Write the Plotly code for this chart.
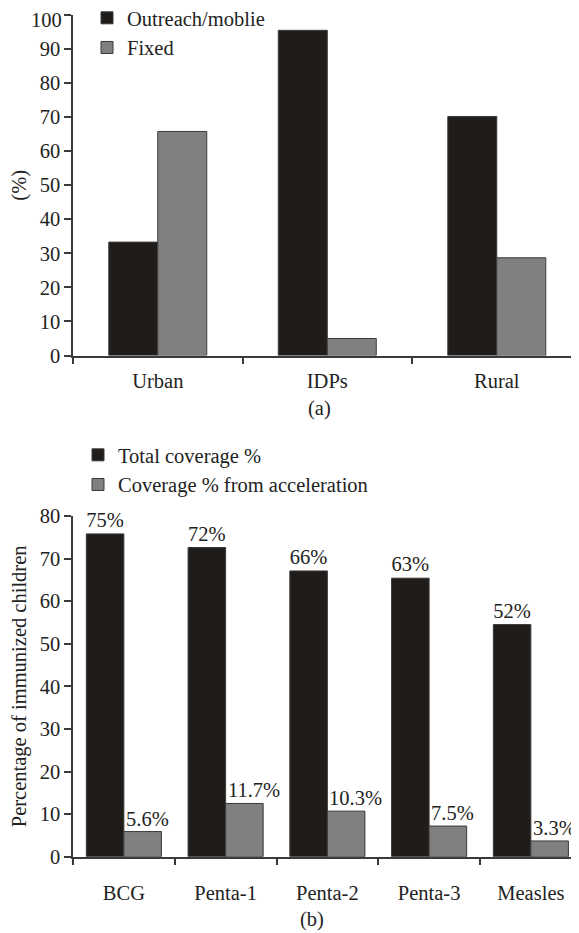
import plotly.graph_objects as go

# ---- Data: panel (a)
areas = ["Urban", "IDPs", "Rural"]
outreach_mobile = [33.3, 95.5, 70.2]
fixed = [65.8, 5.0, 28.7]
ticks_a = list(range(0, 101, 10))

# ---- Data: panel (b)
vaccines = ["BCG", "Penta-1", "Penta-2", "Penta-3", "Measles"]
total_coverage = [75.8, 72.6, 67.1, 65.4, 54.5]
total_labels = ["75%", "72%", "66%", "63%", "52%"]
acceleration_coverage = [5.9, 12.5, 10.7, 7.2, 3.7]
acceleration_labels = ["5.6%", "11.7%", "10.3%", "7.5%", "3.3%"]
ticks_b = list(range(0, 81, 10))

# page has an 8px body margin; figure is sized to fill the rest of the window
OFF = 8
W, H = 579 - OFF, 933 - OFF
FONT = "Liberation Serif"
FS = 20.5
BLACK = "#201c1a"
GRAY = "#808080"
EDGE = "#3a3a3a"
AX = "#3a3a3a"
TXT = "#222222"

def px_(x):
    return (x - OFF) / W

def py(y):
    return 1 - (y - OFF) / H

WA = 0.289   # bar width, panel (a), in category units
WB = 0.369   # bar width, panel (b)

fig = go.Figure()

fig.add_trace(go.Bar(x=areas, y=outreach_mobile, name="Outreach/moblie",
                     width=WA, offset=-WA,
                     marker=dict(color=BLACK, line=dict(color=EDGE, width=1)),
                     xaxis="x", yaxis="y", legend="legend"))
fig.add_trace(go.Bar(x=areas, y=fixed, name="Fixed",
                     width=WA, offset=0,
                     marker=dict(color=GRAY, line=dict(color=EDGE, width=1)),
                     xaxis="x", yaxis="y", legend="legend"))

fig.add_trace(go.Bar(x=vaccines, y=total_coverage, name="Total coverage %",
                     width=WB, offset=-WB,
                     text=total_labels, textposition="outside", constraintext="none",
                     textfont=dict(family=FONT, size=FS, color=TXT),
                     cliponaxis=False,
                     marker=dict(color=BLACK, line=dict(color=EDGE, width=1)),
                     xaxis="x2", yaxis="y2", legend="legend2"))
fig.add_trace(go.Bar(x=vaccines, y=acceleration_coverage, name="Coverage % from acceleration",
                     width=WB, offset=0,
                     marker=dict(color=GRAY, line=dict(color=EDGE, width=1)),
                     xaxis="x2", yaxis="y2", legend="legend2"))

annotations = []
for v, val, lab in zip(vaccines, acceleration_coverage, acceleration_labels):
    annotations.append(dict(x=v, y=val, xref="x2", yref="y2", text=lab,
                            showarrow=False, xanchor="left", yanchor="bottom",
                            xshift=1, yshift=1, borderpad=0,
                            font=dict(family=FONT, size=FS, color=TXT)))

# top tick label of panel (a), nudged down as in the original so it stays inside the page
annotations.append(dict(x=px_(63), y=ticks_a[-1], xref="paper", yref="y",
                        text=str(ticks_a[-1]), showarrow=False, xanchor="right",
                        yanchor="middle", yshift=-5, borderpad=0,
                        font=dict(family=FONT, size=FS, color=TXT)))

annotations.append(dict(x=px_(320), y=py(408), xref="paper", yref="paper", text="(a)",
                        showarrow=False, xanchor="center", yanchor="middle",
                        font=dict(family=FONT, size=FS, color=TXT)))
annotations.append(dict(x=px_(312), y=py(919), xref="paper", yref="paper", text="(b)",
                        showarrow=False, xanchor="center", yanchor="middle",
                        font=dict(family=FONT, size=FS, color=TXT)))

axis_common = dict(showline=True, linecolor=AX, linewidth=1.5, ticks="outside",
                   tickcolor=AX, tickwidth=1.5, ticklen=7, showgrid=False, zeroline=False,
                   ticklabeloverflow="allow",
                   tickfont=dict(family=FONT, size=FS, color=TXT))

x_left = px_(73)

fig.update_layout(
    width=W, height=H,
    margin=dict(l=0, r=0, t=0, b=0, autoexpand=False),
    paper_bgcolor="white", plot_bgcolor="white",
    barmode="overlay",
    font=dict(family=FONT, size=FS, color=TXT),
    xaxis=dict(domain=[x_left, 1], anchor="y", type="category",
               range=[-0.5, 2.485], tickson="boundaries", ticklabelstandoff=6,
               **axis_common),
    yaxis=dict(domain=[py(355.5), py(15)], anchor="x", range=[0, 100],
               tickvals=ticks_a,
               ticktext=[str(t) for t in ticks_a[:-1]] + [""],
               title=dict(text="(%)", font=dict(family=FONT, size=FS, color=TXT), standoff=10),
               **axis_common),
    xaxis2=dict(domain=[x_left, 1], anchor="y2", type="category",
                range=[-0.5, 4.473], tickson="boundaries", ticklabelstandoff=17,
                **axis_common),
    yaxis2=dict(domain=[py(856.7), py(516)], anchor="x2", range=[0, 80],
                tickvals=ticks_b,
                title=dict(text="Percentage of immunized children",
                           font=dict(family=FONT, size=FS, color=TXT), standoff=10),
                **axis_common),
    legend=dict(x=px_(87), y=py(-2), xanchor="left", yanchor="top",
                bgcolor="rgba(0,0,0,0)", font=dict(family=FONT, size=FS, color=TXT),
                traceorder="normal"),
    legend2=dict(x=px_(78), y=py(435), xanchor="left", yanchor="top",
                 bgcolor="rgba(0,0,0,0)", font=dict(family=FONT, size=FS, color=TXT),
                 traceorder="normal"),
    annotations=annotations,
    showlegend=True,
)

fig.write_html("out.html")
